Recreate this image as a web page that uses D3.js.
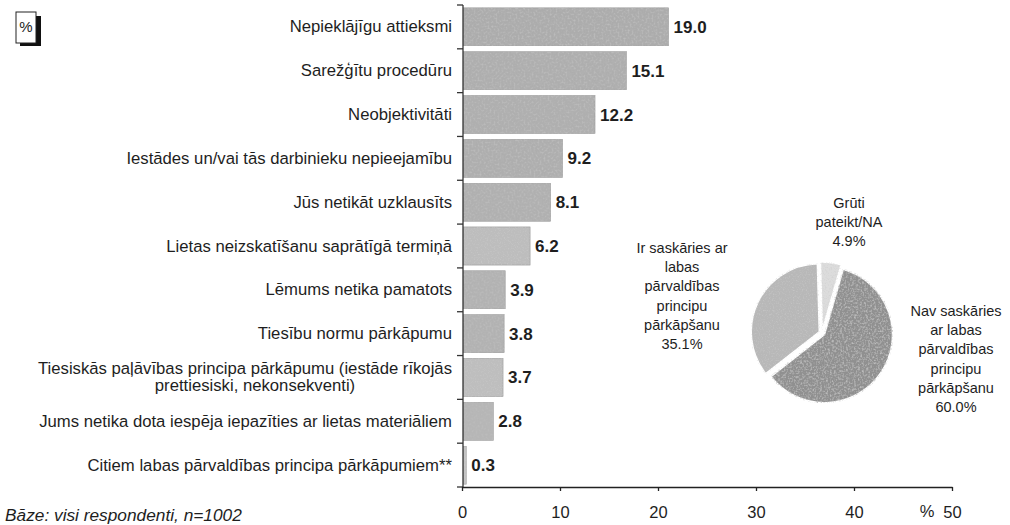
<!DOCTYPE html>
<html>
<head>
<meta charset="utf-8">
<script src="https://cdn.jsdelivr.net/npm/d3@7"></script>
<style>
  html, body { margin: 0; padding: 0; background: #fff; }
  svg { display: block; }
  text { font-family: "Liberation Sans", Arial, sans-serif; fill: #1e1e1e; }
</style>
</head>
<body>
<svg id="chart" width="1010" height="525"></svg>
<script>
// ---------- data ----------
const categories = [
  "Nepieklājīgu attieksmi",
  "Sarežģītu procedūru",
  "Neobjektivitāti",
  "Iestādes un/vai tās darbinieku nepieejamību",
  "Jūs netikāt uzklausīts",
  "Lietas neizskatīšanu saprātīgā termiņā",
  "Lēmums netika pamatots",
  "Tiesību normu pārkāpumu",
  "Tiesiskās paļāvības principa pārkāpumu (iestāde rīkojās\nprettiesiski, nekonsekventi)",
  "Jums netika dota iespēja iepazīties ar lietas materiāliem",
  "Citiem labas pārvaldības principa pārkāpumiem**"
];
const values = [19.0, 15.1, 12.2, 9.2, 8.1, 6.2, 3.9, 3.8, 3.7, 2.8, 0.3];
const axisTicks = [0, 10, 20, 30, 40, 50];

const pieCategories = [
  "Nav saskāries\nar labas\npārvaldības\nprincipu\npārkāpšanu",
  "Ir saskāries ar\nlabas\npārvaldības\nprincipu\npārkāpšanu",
  "Grūti\npateikt/NA"
];
const pieValues = [60.0, 35.1, 4.9];

const footnote = "Bāze: visi respondenti, n=1002";

// ---------- layout ----------
const svg = d3.select("#chart");
const defs = svg.append("defs");
function grain(id, freq, dark, gain, offset, seed) {
  const f = defs.append("filter").attr("id", id)
    .attr("x", 0).attr("y", 0).attr("width", "100%").attr("height", "100%");
  f.append("feTurbulence").attr("type", "fractalNoise").attr("baseFrequency", freq)
    .attr("numOctaves", 2).attr("seed", seed).attr("result", "noise");
  f.append("feColorMatrix").attr("in", "noise").attr("type", "matrix")
    .attr("values", `0 0 0 0 ${dark}  0 0 0 0 ${dark}  0 0 0 0 ${dark}  ${gain} 0 0 0 ${offset}`)
    .attr("result", "dark");
  f.append("feComposite").attr("in", "dark").attr("in2", "SourceGraphic")
    .attr("operator", "in").attr("result", "darkIn");
  const fm = f.append("feMerge");
  fm.append("feMergeNode").attr("in", "SourceGraphic");
  fm.append("feMergeNode").attr("in", "darkIn");
}
grain("grain", 0.5, 0.5, 2.6, -1.15, 4);
grain("grainLight", 0.7, 0.6, 1.8, -0.9, 7);

// bar length scale (as drawn in the source) and the printed axis scale
const xBar = d3.scaleLinear().domain([0, 50]).range([463, 463 + 50 * 10.82]);
const xAxisScale = d3.scaleLinear().domain([0, 50]).range([462, 952]);
const y = d3.scaleBand().domain(categories).range([5, 487])
  .paddingInner(0.13).paddingOuter(0.065);
const step = y.step();

// % badge
svg.append("rect").attr("x", 20).attr("y", 16).attr("width", 21).attr("height", 30).attr("fill", "#111");
svg.append("rect").attr("x", 16).attr("y", 12).attr("width", 20).attr("height", 31)
  .attr("fill", "#fff").attr("stroke", "#222").attr("stroke-width", 1);
svg.append("text").attr("x", 26).attr("y", 32).attr("text-anchor", "middle")
  .attr("font-size", 15).text("%");

// bars
const barFills = ["#acacac", "#aeaeae", "#afafaf", "#aeaeae", "#b0b0b0", "#bdbdbd",
                  "#b2b2b2", "#b2b2b2", "#bebebe", "#b6b6b6", "#c4c4c4"];
const barGrain = ["grain", "grain", "grain", "grain", "grain", "grainLight",
                  "grain", "grain", "grainLight", "grain", "grainLight"];
svg.append("g").selectAll("rect").data(categories).join("rect")
  .attr("x", xBar(0))
  .attr("y", d => y(d))
  .attr("width", (d, i) => xBar(values[i]) - xBar(0))
  .attr("height", y.bandwidth())
  .attr("fill", (d, i) => barFills[i])
  .attr("stroke", "#9a9a9a").attr("stroke-width", 0.6)
  .attr("filter", (d, i) => `url(#${barGrain[i]})`);

// value labels
svg.append("g").selectAll("text").data(categories).join("text")
  .attr("x", (d, i) => xBar(values[i]) + 5)
  .attr("y", d => y(d) + y.bandwidth() / 2 + 6)
  .attr("font-size", 17).attr("font-weight", "bold").attr("fill", "#111")
  .text((d, i) => values[i].toFixed(1));

// category labels
const labG = svg.append("g");
const labSize = 16.7;
categories.forEach(c => {
  const lines = c.split("\n");
  const cy = y(c) + y.bandwidth() / 2;
  if (lines.length === 1) {
    labG.append("text").attr("x", 452).attr("y", cy + 5.5)
      .attr("text-anchor", "end").attr("font-size", labSize).text(c);
  } else {
    const t1 = labG.append("text").attr("x", 452).attr("y", cy - 3.5)
      .attr("text-anchor", "end").attr("font-size", labSize).text(lines[0]);
    const w = t1.node().getComputedTextLength();
    labG.append("text").attr("x", 452 - w / 2 + 10).attr("y", cy + 14)
      .attr("text-anchor", "middle").attr("font-size", labSize).text(lines[1]);
  }
});

// y axis line with band-boundary ticks
svg.append("line").attr("x1", 463).attr("x2", 463).attr("y1", 5).attr("y2", 487)
  .attr("stroke", "#333").attr("stroke-width", 1.3);
const bounds = categories.map(c => y(c) - step * 0.065).concat([487]);
svg.append("g").selectAll("line").data(bounds).join("line")
  .attr("x1", 457).attr("x2", 463).attr("y1", d => d).attr("y2", d => d)
  .attr("stroke", "#333").attr("stroke-width", 1.3);

// x axis
const xAxis = svg.append("g").attr("transform", "translate(0,487)")
  .call(d3.axisBottom(xAxisScale).tickValues(axisTicks).tickSize(4).tickSizeOuter(0)
        .tickFormat(d3.format("d")));
xAxis.select(".domain").attr("stroke", "#222").attr("stroke-width", 1.5);
xAxis.selectAll(".tick line").attr("stroke", "#222").attr("stroke-width", 1.3);
xAxis.selectAll(".tick text").attr("y", 19).attr("dy", "0.71em")
  .attr("font-size", 16.5).attr("fill", "#1e1e1e")
  .attr("font-family", "Liberation Sans, Arial, sans-serif");
svg.append("text").attr("x", 927).attr("y", 517).attr("text-anchor", "middle")
  .attr("font-size", 16.5).text("%");

// footnote
svg.append("text").attr("x", 5).attr("y", 521).attr("font-size", 17.3)
  .attr("font-style", "italic").text(footnote);

// ---------- pie ----------
const cx = 822, cyP = 333, r = 68;
const start = 16 * Math.PI / 180;
const pie = d3.pie().sort(null).startAngle(start).endAngle(start + 2 * Math.PI);
const arcs = pie(pieValues);
const arc = d3.arc().innerRadius(0).outerRadius(r);
const pieFills = ["#909090", "#b8b8b8", "#dcdcdc"];
const pieGrain = ["grain", "grainLight", "grainLight"];
const pg = svg.append("g").attr("transform", `translate(${cx},${cyP})`);
pg.selectAll("path").data(arcs).join("path")
  .attr("d", arc)
  .attr("transform", d => {
    const a = (d.startAngle + d.endAngle) / 2;
    return `translate(${3 * Math.sin(a)},${-3 * Math.cos(a)})`;
  })
  .attr("fill", (d, i) => pieFills[i])
  .attr("stroke", "#fff").attr("stroke-width", 1.5)
  .attr("filter", (d, i) => `url(#${pieGrain[i]})`);

// pie labels (positions relative to pie)
const pieLabelPos = [
  { x: cx + 134, y: cyP - 17 },
  { x: cx - 140, y: cyP - 80 },
  { x: cx + 27, y: cyP - 125 }
];
pieCategories.forEach((c, i) => {
  const lines = c.split("\n").concat([pieValues[i].toFixed(1) + "%"]);
  const t = svg.append("text").attr("text-anchor", "middle").attr("font-size", 14.5);
  lines.forEach((ln, j) => {
    t.append("tspan").attr("x", pieLabelPos[i].x)
      .attr("y", pieLabelPos[i].y + j * 19.2).text(ln);
  });
});
</script>
</body>
</html>
